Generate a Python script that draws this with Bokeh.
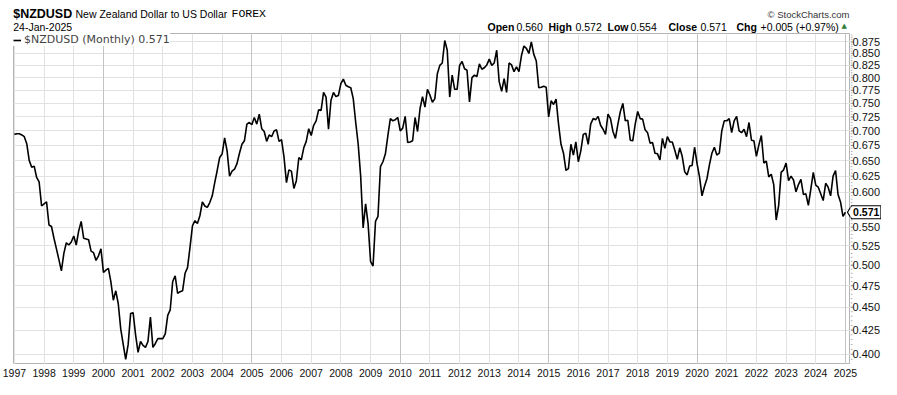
import math
from bokeh.plotting import figure
from bokeh.layouts import column, row
from bokeh.models import Range1d, FixedTicker, Grid, ColumnDataSource
from bokeh.core.properties import value
from bokeh.embed import file_html
from bokeh.resources import INLINE

# ---------------- data ----------------
symbol = "$NZDUSD"
full_name = "New Zealand Dollar to US Dollar"
exchange = "FOREX"
as_of = "24-Jan-2025"
credit = "\u00a9 StockCharts.com"
start_year = 1997
last_open, last_high, last_low, last_close = 0.560, 0.572, 0.554, 0.571
last_chg, last_chg_pct = 0.005, 0.97

# monthly closes, Jan 1997 .. Jan 2025 (one row per year)
monthly_close = [
    0.694, 0.695, 0.695, 0.693, 0.690, 0.678, 0.650, 0.639, 0.641, 0.623, 0.616, 0.580,  # 1997
    0.583, 0.586, 0.553, 0.551, 0.535, 0.521, 0.507, 0.493, 0.515, 0.529, 0.526, 0.530,  # 1998
    0.538, 0.526, 0.545, 0.558, 0.535, 0.534, 0.533, 0.518, 0.516, 0.506, 0.512, 0.521,  # 1999
    0.491, 0.494, 0.496, 0.480, 0.458, 0.469, 0.454, 0.426, 0.410, 0.395, 0.410, 0.443,  # 2000
    0.444, 0.420, 0.402, 0.413, 0.409, 0.407, 0.413, 0.439, 0.407, 0.411, 0.416, 0.416,  # 2001
    0.416, 0.421, 0.441, 0.447, 0.480, 0.487, 0.466, 0.468, 0.469, 0.490, 0.497, 0.523,  # 2002
    0.552, 0.559, 0.555, 0.566, 0.586, 0.580, 0.578, 0.585, 0.595, 0.615, 0.634, 0.655,  # 2003
    0.661, 0.688, 0.666, 0.625, 0.633, 0.636, 0.645, 0.662, 0.677, 0.683, 0.712, 0.715,  # 2004
    0.711, 0.724, 0.712, 0.730, 0.704, 0.699, 0.682, 0.693, 0.690, 0.700, 0.702, 0.682,  # 2005
    0.685, 0.656, 0.615, 0.635, 0.633, 0.606, 0.618, 0.655, 0.651, 0.671, 0.682, 0.704,  # 2006
    0.692, 0.710, 0.718, 0.738, 0.737, 0.771, 0.762, 0.703, 0.756, 0.771, 0.763, 0.765,  # 2007
    0.788, 0.797, 0.785, 0.782, 0.780, 0.759, 0.715, 0.677, 0.625, 0.549, 0.583, 0.555,  # 2008
    0.505, 0.499, 0.558, 0.565, 0.640, 0.648, 0.661, 0.692, 0.722, 0.718, 0.720, 0.724,  # 2009
    0.700, 0.705, 0.726, 0.680, 0.681, 0.683, 0.724, 0.699, 0.740, 0.763, 0.743, 0.777,  # 2010
    0.766, 0.752, 0.759, 0.808, 0.825, 0.830, 0.878, 0.857, 0.762, 0.805, 0.777, 0.777,  # 2011
    0.825, 0.833, 0.818, 0.815, 0.753, 0.800, 0.805, 0.802, 0.828, 0.817, 0.820, 0.826,  # 2012
    0.838, 0.825, 0.830, 0.857, 0.792, 0.773, 0.798, 0.771, 0.830, 0.826, 0.812, 0.822,  # 2013
    0.812, 0.845, 0.866, 0.861, 0.850, 0.875, 0.848, 0.834, 0.780, 0.781, 0.783, 0.781,  # 2014
    0.725, 0.755, 0.748, 0.758, 0.712, 0.677, 0.662, 0.634, 0.637, 0.677, 0.659, 0.681,  # 2015
    0.648, 0.666, 0.694, 0.696, 0.677, 0.712, 0.722, 0.720, 0.726, 0.710, 0.703, 0.694,  # 2016
    0.730, 0.722, 0.699, 0.687, 0.712, 0.735, 0.750, 0.718, 0.719, 0.684, 0.683, 0.712,  # 2017
    0.735, 0.722, 0.721, 0.702, 0.697, 0.679, 0.680, 0.662, 0.661, 0.651, 0.687, 0.670,  # 2018
    0.690, 0.681, 0.681, 0.667, 0.652, 0.671, 0.657, 0.632, 0.627, 0.641, 0.642, 0.672,  # 2019
    0.645, 0.624, 0.595, 0.609, 0.621, 0.643, 0.662, 0.672, 0.659, 0.662, 0.700, 0.718,  # 2020
    0.718, 0.722, 0.697, 0.718, 0.726, 0.700, 0.697, 0.703, 0.690, 0.715, 0.684, 0.683,  # 2021
    0.657, 0.676, 0.692, 0.646, 0.649, 0.624, 0.628, 0.612, 0.560, 0.581, 0.631, 0.635,  # 2022
    0.646, 0.618, 0.625, 0.619, 0.601, 0.612, 0.620, 0.597, 0.598, 0.581, 0.605, 0.631,  # 2023
    0.611, 0.608, 0.598, 0.588, 0.614, 0.608, 0.595, 0.625, 0.634, 0.597, 0.586, 0.565,  # 2024
    0.571,                                                                               # 2025
]

year_ticks = list(range(1997, 2026))
year_labels = [str(y) for y in year_ticks]
major_year_lines = [2000, 2005, 2010, 2015, 2020, 2025]
price_ticks = [0.400, 0.425, 0.450, 0.475, 0.500, 0.525, 0.550, 0.575, 0.600, 0.625,
               0.650, 0.675, 0.700, 0.725, 0.750, 0.775, 0.800, 0.825, 0.850, 0.875]

# ---------------- layout constants ----------------
TOTAL_W = 881
HEAD_H = 33
PLOT_W, AXIS_W, PLOT_H = 850, 31, 331
STRIP_H = 15
LEFT = 13
X0, X1 = 1996.97, 2025.17
Y0, Y1 = 0.3899, 0.8936

FRAME_W = PLOT_W - LEFT
FRAME_H = PLOT_H
px_per_year = FRAME_W / (X1 - X0)
px_per_ln = FRAME_H / math.log(Y1 / Y0)

months = [start_year + i / 12.0 for i in range(len(monthly_close))]
src = ColumnDataSource(dict(t=months, close=monthly_close))
xr = Range1d(X0, X1)
yr = Range1d(Y0, Y1)


def bare(width, height, **kw):
    f = figure(width=width, height=height, output_backend="svg", toolbar_location=None,
               background_fill_color="white", border_fill_color="white", **kw)
    f.grid.visible = False
    return f


# ---------------- header strip ----------------
h = bare(TOTAL_W, HEAD_H, x_range=Range1d(0, TOTAL_W), y_range=Range1d(HEAD_H, 0),
         x_axis_location=None, y_axis_location=None,
         min_border_left=0, min_border_right=0, min_border_top=0, min_border_bottom=0)
h.outline_line_color = None

B, N = "bold", "normal"
LS, LM, DV = "Liberation Sans", "Liberation Mono", "DejaVu Sans"
R1, R2 = 13.3, 26.3
head_items = [
    # text, x, y(baseline), font, size, style, color, align
    (symbol, 12.7, R1, LS, "12.5px", B, "#000000", "left"),
    (full_name, 75, R1, LS, "10.5px", N, "#000000", "left"),
    (exchange, 231, R1, LM, "11.5px", N, "#000000", "left"),
    (credit, 849, R1 + 1, LS, "9.5px", N, "#333333", "right"),
    (as_of, 12.7, R2, LS, "10.5px", N, "#000000", "left"),
    ("Open", 487, R2, LS, "10.5px", B, "#000000", "left"),
    (f"{last_open:.3f}", 516, R2, LS, "10.5px", N, "#000000", "left"),
    ("High", 548, R2, LS, "10.5px", B, "#000000", "left"),
    (f"{last_high:.3f}", 575, R2, LS, "10.5px", N, "#000000", "left"),
    ("Low", 607, R2, LS, "10.5px", B, "#000000", "left"),
    (f"{last_low:.3f}", 630, R2, LS, "10.5px", N, "#000000", "left"),
    ("Close", 668, R2, LS, "10.5px", B, "#000000", "left"),
    (f"{last_close:.3f}", 700, R2, LS, "10.5px", N, "#000000", "left"),
    ("Chg", 736, R2, LS, "10.5px", B, "#000000", "left"),
    (f"{last_chg:+.3f} ({last_chg_pct:+.2f}%)", 760, R2, LS, "10.5px", N, "#000000", "left"),
    ("\u25b2", 841, R2 - 1, DV, "7px", N, "#2e7d32", "left"),
]
hsrc = ColumnDataSource(dict(
    text=[r[0] for r in head_items], x=[r[1] for r in head_items],
    y=[r[2] for r in head_items], font=[r[3] for r in head_items],
    size=[r[4] for r in head_items], style=[r[5] for r in head_items],
    color=[r[6] for r in head_items], align=[r[7] for r in head_items]))
h.text(x="x", y="y", text="text", source=hsrc, text_font="font", text_font_size="size",
       text_font_style="style", text_color="color", text_align="align",
       text_baseline="alphabetic")

# ---------------- main chart ----------------
p = bare(PLOT_W, PLOT_H, y_axis_type="log", x_axis_location=None, y_axis_location=None,
         x_range=xr, y_range=yr,
         min_border_left=LEFT, min_border_right=0, min_border_top=0, min_border_bottom=0)
p.outline_line_color = "#b4b4b4"

p.add_layout(Grid(dimension=0, ticker=FixedTicker(ticks=year_ticks),
                  grid_line_color="#e2e2e2"))
p.add_layout(Grid(dimension=1, ticker=FixedTicker(ticks=price_ticks),
                  grid_line_color="#e2e2e2"))
p.add_layout(Grid(dimension=0, ticker=FixedTicker(ticks=major_year_lines),
                  grid_line_color="#c4c4c4"))

p.line("t", "close", source=src, line_color="black", line_width=1.6,
       legend_label=f"{symbol} (Monthly) {monthly_close[-1]:.3f}")

leg = p.legend[0]
leg.location = "top_left"
leg.margin = 0
leg.padding = 1
leg.spacing = 0
leg.glyph_width = 8
leg.glyph_height = 12
leg.label_height = 12
leg.label_standoff = 3
leg.label_text_font = "DejaVu Sans"
leg.label_text_font_size = "11px"
leg.border_line_color = None
leg.background_fill_color = "white"
leg.background_fill_alpha = 1.0

# last-price tag shape (pixel offsets from the last point), shared by both panels
last_t, last_v = months[-1], monthly_close[-1]
tag_dx = [2, 6, 35.5, 35.5, 6]
tag_dy = [0, 6.5, 6.5, -6.5, -6.5]
tag_ys = [last_v * math.exp(dy / px_per_ln) for dy in tag_dy]
p.patch([last_t + dx / px_per_year for dx in tag_dx], tag_ys,
        fill_color="white", line_color="black", line_width=1.2)

# ---------------- right price axis ----------------
a = bare(AXIS_W, PLOT_H, y_axis_type="log", x_axis_location=None, y_axis_location=None,
         x_range=Range1d(0, AXIS_W), y_range=yr,
         min_border_left=0, min_border_right=0, min_border_top=0, min_border_bottom=0)
a.outline_line_color = None

minor = [round(0.390 + 0.005 * k, 3) for k in range(101) if 0.390 + 0.005 * k <= Y1]
a.segment(x0=[0] * len(minor), y0=minor, x1=[2] * len(minor), y1=minor,
          line_color="#b4b4b4", line_width=1)
a.segment(x0=[0] * len(price_ticks), y0=price_ticks, x1=[3] * len(price_ticks),
          y1=price_ticks, line_color="#9a9a9a", line_width=1)

shown = [t for t in price_ticks if abs(math.log(t / last_v)) * px_per_ln > 9]
a.text(x=[2] * len(shown), y=shown, text=[f"{t:.3f}" for t in shown],
       text_font=value("Liberation Sans"), text_font_size="11px",
       text_color="#111111", text_baseline="middle", text_align="left")

edge_off = (X1 - last_t) * px_per_year
a.patch([dx - edge_off for dx in tag_dx], tag_ys,
        fill_color="white", line_color="black", line_width=1.2)
a.text(x=[(tag_dx[1] + tag_dx[2]) / 2 - edge_off], y=[last_v], text=[f"{last_v:.3f}"],
       text_font=value("Liberation Sans"), text_font_style="bold",
       text_font_size="10.5px", text_color="black",
       text_baseline="middle", text_align="center")

# ---------------- bottom time axis strip ----------------
s = bare(TOTAL_W, STRIP_H, x_range=xr, y_range=Range1d(0, 1), y_axis_location=None,
         min_border_left=LEFT, min_border_right=AXIS_W, min_border_top=0,
         min_border_bottom=0)
s.outline_line_color = None
s.xaxis.ticker = FixedTicker(ticks=year_ticks)
s.xaxis.major_label_overrides = {y: lab for y, lab in zip(year_ticks, year_labels)}
s.xaxis.axis_line_color = None
s.xaxis.major_tick_line_color = None
s.xaxis.minor_tick_line_color = None
s.xaxis.major_tick_out = 0
s.xaxis.major_tick_in = 0
s.xaxis.major_label_standoff = 1
s.xaxis.major_label_text_font = "Liberation Sans"
s.xaxis.major_label_text_font_size = "10.5px"
s.xaxis.major_label_text_color = "#111111"

# each figure sits in its own row so the column does not align their frames
layout = column(row(h), row(p, a), row(s))
open("out.html", "w").write(file_html(layout, INLINE))
